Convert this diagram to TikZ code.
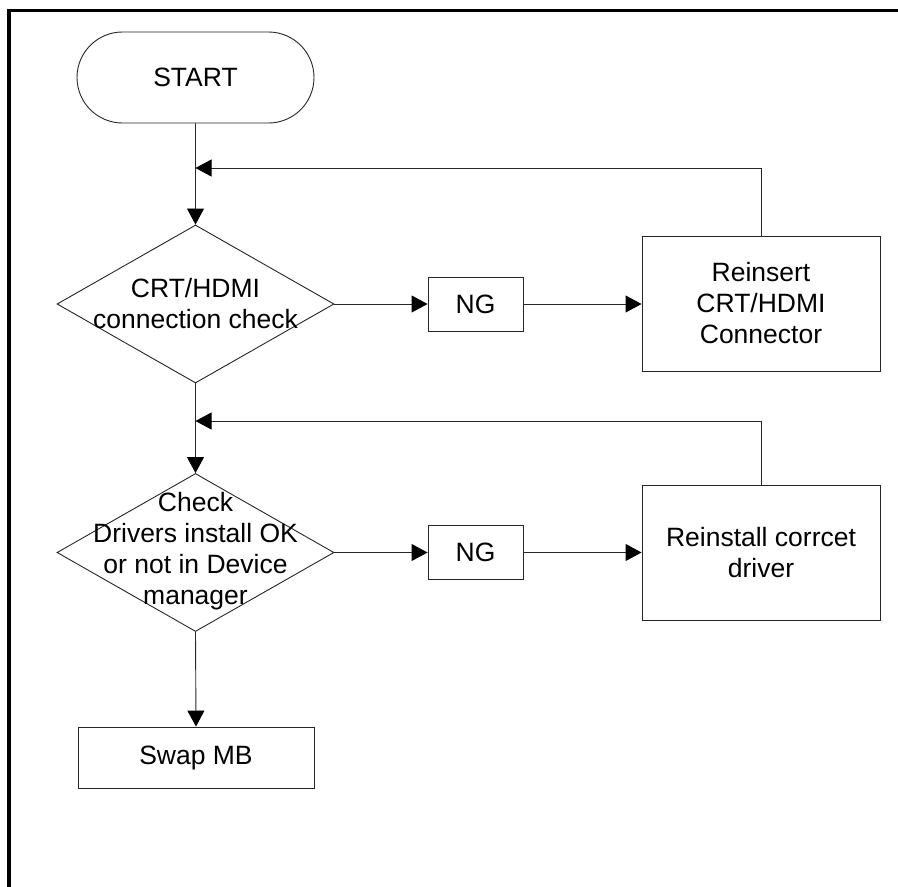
\documentclass[tikz,border=0pt]{standalone}
\usepackage{fontspec}
\setmainfont{Liberation Sans}
\usetikzlibrary{shapes.geometric,shapes.misc,arrows.meta}
\begin{document}
\begin{tikzpicture}[x=1pt,y=-1pt,
  font=\fontsize{26.5}{31}\selectfont,
  line/.style={draw=black!85, line width=0.9pt},
  flow/.style={line, -{Triangle[length=16pt,width=17pt,color=black]}},
  box/.style={line, rectangle, inner sep=0pt, align=center},
  terminal/.style={line, rounded rectangle, inner sep=0pt,
    minimum width=237pt, minimum height=91pt},
  decision/.style={line, diamond, inner sep=0pt,
    minimum width=277pt, minimum height=158pt},
  caption/.style={align=center, inner sep=0pt}]
\useasboundingbox (0,0) rectangle (898,887);

% page frame (top and left edges)
\draw[line width=3.5pt, line join=miter] (898,10.5) -- (9,10.5) -- (9,887);

% main column
\node[terminal] (start) at (195.5,77.5) {START};
\node[decision] (d1) at (195.5,304) {};
\node[caption] (t1) at (d1) {CRT/HDMI\\connection check};
\node[decision] (d2) at (195.5,552.5) {};
\node[caption] (t2) at (195.5,551.5) {Check\\Drivers install OK\\or not in Device\\manager};
\node[box, minimum width=236pt, minimum height=61pt] (swap) at (196,757.5) {Swap MB};

% failure branches
\node[box, minimum width=95pt, minimum height=54pt] (ng1) at (475.5,304) {NG};
\node[box, minimum width=238pt, minimum height=135pt] (r1) at (761,303.5)
  {Reinsert\\CRT/HDMI\\Connector};
\node[box, minimum width=95pt, minimum height=54pt] (ng2) at (475.5,552.5) {NG};
\node[box, minimum width=238pt, minimum height=135pt] (r2) at (761,552.5)
  {Reinstall corrcet\\driver};

% loop-back joins on the main column
\coordinate (j1) at (195.5,168);
\coordinate (j2) at (195.5,421);

% connectors
\draw[flow] (start) -- (d1);
\draw[flow] (d1.east) -- (ng1.west);
\draw[flow] (ng1.east) -- (r1.west |- ng1.east);
\draw[flow] (r1.north) |- (j1);
\draw[flow] (d1.south) -- (d2.north);
\draw[flow] (d2.east) -- (ng2.west);
\draw[flow] (ng2.east) -- (r2.west |- ng2.east);
\draw[flow] (r2.north) |- (j2);
\draw[flow] (d2.south) -- (swap.north);
\end{tikzpicture}
\end{document}
